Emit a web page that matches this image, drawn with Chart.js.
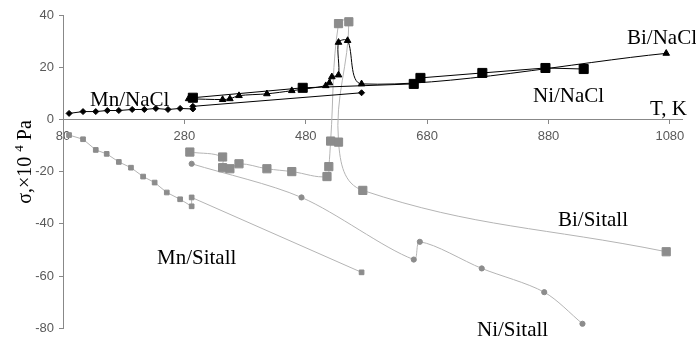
<!DOCTYPE html>
<html>
<head>
<meta charset="utf-8">
<script src="https://cdn.jsdelivr.net/npm/chart.js@4.4.1/dist/chart.umd.min.js"></script>
<style>
  html, body { margin: 0; padding: 0; background: #fff; }
</style>
</head>
<body>
<canvas id="myChart" width="696" height="341"></canvas>
<script>
// temperature (K) and stress (x10^4 Pa)
var mnNaclT = [90, 113, 134, 153, 172, 194, 214, 233, 253, 273, 294, 294, 572];
var mnNaclS = [2.3, 3.0, 3.0, 3.4, 3.4, 3.8, 3.8, 4.2, 3.8, 4.2, 4.0, 5.0, 10.2];

var biNaclT = [287, 343, 355, 370, 416, 457, 513, 519, 523, 534, 534, 549, 572, 1074];
var biNaclS = [7.9, 7.6, 7.9, 9.1, 9.8, 11.0, 12.9, 14.0, 16.3, 17.0, 29.5, 30.2, 13.6, 25.3];

var niNaclT = [294, 475, 658, 669, 771, 875, 938];
var niNaclS = [8.3, 12.1, 13.6, 15.9, 17.8, 19.7, 19.3];

var mnSitT = [90, 113, 134, 152, 172, 192, 212, 231, 251, 273, 292, 292, 572];
var mnSitS = [-6.0, -7.6, -11.7, -13.2, -16.3, -18.5, -21.9, -24.2, -28.0, -30.6, -33.3, -29.9, -58.6];

var biSitT = [289, 343, 343, 355, 370, 416, 457, 515, 518, 521, 534, 551, 534, 574, 1074];
var biSitS = [-12.5, -14.4, -18.5, -18.9, -17.0, -18.9, -20.0, -21.9, -18.1, -8.3, 36.7, 37.4, -8.7, -27.2, -50.7];

var niSitT = [292, 473, 658, 668, 770, 873, 936];
var niSitS = [-17.0, -29.9, -53.7, -46.9, -57.1, -66.2, -78.3];

var xTicks = [80, 280, 480, 680, 880, 1080];
var seriesNames = ['Mn/NaCl', 'Bi/NaCl', 'Ni/NaCl', 'Mn/Sitall', 'Bi/Sitall', 'Ni/Sitall'];

function pts(xs, ys) {
    return xs.map(function (x, i) { return { x: x, y: ys[i] }; });
}

var black = '#000000';
var grayMark = '#8c8c8c';
var grayLine = '#b4b4b4';

// text drawn onto the plot (series names, axis titles)
var labelPlugin = {
    id: 'labels',
    afterDraw: function (chart) {
        var c = chart.ctx;
        c.save();
        c.fillStyle = '#000';
        c.textBaseline = 'alphabetic';
        c.textAlign = 'left';
        c.font = '21px "Liberation Serif"';
        c.fillText(seriesNames[0], 90, 106);
        c.fillText(seriesNames[1], 627, 44);
        c.fillText(seriesNames[2], 533, 102);
        c.fillText('T, K', 650, 115);
        c.fillText(seriesNames[4], 558, 226);
        c.fillText(seriesNames[3], 157, 264);
        c.fillText(seriesNames[5], 477, 336);

        // y axis title, rotated
        c.translate(31, 162);
        c.rotate(-Math.PI / 2);
        c.font = '20px "Liberation Serif"';
        var a = 'σ,×10 ', b = '4', d = ' Pa';
        var wa = c.measureText(a).width, wd = c.measureText(d).width;
        c.font = '13px "Liberation Serif"';
        var wb = c.measureText(b).width;
        var x0 = -(wa + wb + wd) / 2;
        c.font = '20px "Liberation Serif"';
        c.fillText(a, x0, 0);
        c.font = '13px "Liberation Serif"';
        c.fillText(b, x0 + wa, -8);
        c.font = '20px "Liberation Serif"';
        c.fillText(d, x0 + wa + wb, 0);
        c.restore();
    }
};

var tickFont = { family: 'Liberation Sans', size: 13 };

new Chart(document.getElementById('myChart'), {
    type: 'scatter',
    data: {
        datasets: [{
            label: seriesNames[0],
            data: pts(mnNaclT, mnNaclS),
            showLine: true,
            borderColor: black,
            borderWidth: 1,
            pointStyle: 'rectRot',
            pointRadius: 3,
            backgroundColor: black,
            pointBorderColor: black
        }, {
            label: seriesNames[1],
            data: pts(biNaclT, biNaclS),
            showLine: true,
            tension: 0.3,
            borderColor: black,
            borderWidth: 1,
            pointStyle: 'triangle',
            pointRadius: 3.8,
            backgroundColor: black,
            pointBorderColor: black
        }, {
            label: seriesNames[2],
            data: pts(niNaclT, niNaclS),
            showLine: true,
            borderColor: black,
            borderWidth: 1,
            pointStyle: 'rect',
            pointRadius: 6.4,
            backgroundColor: black,
            pointBorderColor: black
        }, {
            label: seriesNames[3],
            data: pts(mnSitT, mnSitS),
            showLine: true,
            borderColor: grayLine,
            borderWidth: 1,
            pointStyle: 'rect',
            pointRadius: 3.3,
            backgroundColor: grayMark,
            pointBorderColor: grayMark
        }, {
            label: seriesNames[4],
            data: pts(biSitT, biSitS),
            showLine: true,
            tension: 0.4,
            borderColor: grayLine,
            borderWidth: 1,
            pointStyle: 'rect',
            pointRadius: 5.8,
            backgroundColor: grayMark,
            pointBorderColor: grayMark
        }, {
            label: seriesNames[5],
            data: pts(niSitT, niSitS),
            showLine: true,
            tension: 0.3,
            borderColor: grayLine,
            borderWidth: 1,
            pointStyle: 'circle',
            pointRadius: 2.6,
            backgroundColor: grayMark,
            pointBorderColor: grayMark
        }]
    },
    options: {
        responsive: false,
        animation: false,
        layout: { padding: { left: 0, top: 15, right: 14, bottom: 8 } },
        plugins: {
            legend: { display: false },
            tooltip: { enabled: false }
        },
        scales: {
            x: {
                type: 'linear',
                position: { y: 0 },
                min: 80,
                max: 1100,
                afterBuildTicks: function (s) {
                    s.ticks = xTicks.map(function (v) { return { value: v }; });
                },
                ticks: {
                    color: '#595959', font: tickFont, padding: 5, maxRotation: 0, autoSkip: false,
                    callback: function (v) { return String(v); }
                },
                grid: { drawOnChartArea: false, drawTicks: true, tickLength: 4, color: '#888' },
                border: { color: '#888', width: 1 }
            },
            y: {
                type: 'linear',
                min: -80,
                max: 40,
                afterFit: function (s) { s.width = 63; },
                ticks: { stepSize: 20, color: '#595959', font: tickFont, padding: 5 },
                grid: { drawOnChartArea: false, drawTicks: true, tickLength: 4, color: '#888' },
                border: { color: '#888', width: 1 }
            }
        }
    },
    plugins: [labelPlugin]
});
</script>
</body>
</html>
